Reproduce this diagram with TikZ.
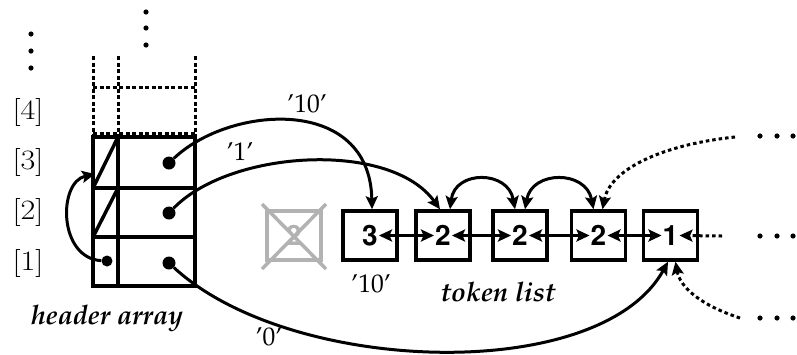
\documentclass[tikz,border=0pt]{standalone}
\usetikzlibrary{arrows.meta}
% Palatino and Helvetica from psnfss; Latin Modern, widened, for the indices
\newcommand\palbi{\fontencoding{OT1}\fontfamily{ppl}\fontseries{b}\fontshape{it}\selectfont}
\newcommand\palrm{\fontencoding{OT1}\fontfamily{ppl}\fontseries{m}\fontshape{n}\selectfont}
\newcommand\helvb{\fontencoding{OT1}\fontfamily{phv}\fontseries{b}\fontshape{n}\selectfont}
\newcommand\wideidx[1]{\scalebox{1.15}[1]{#1}}
\tikzset{
  tok/.style={draw, line width=3.5pt, minimum width=54pt, minimum height=49pt, inner sep=0pt},
  num/.style={font=\helvb\fontsize{28}{30}\selectfont, inner sep=1pt},
  idx/.style={font=\fontsize{28}{32}\selectfont, inner sep=0pt},
  quot/.style={font=\palrm\fontsize{25.5}{28}\selectfont, inner sep=0pt},
  title/.style={font=\palbi\fontsize{27}{30}\selectfont, inner sep=0pt},
  dotnode/.style={circle, fill, inner sep=0pt, minimum size=13pt},
  tip/.tip={Stealth[length=13pt, width=12pt, inset=2.5pt]},
  lnk/.style={line width=3pt, tip-tip},
  ptr/.style={line width=3pt, -tip},
  dotted line/.style={line width=3pt, dash pattern=on 3.5pt off 3pt},
  grid line/.style={line width=3.5pt},
  dash line/.style={line width=3pt, dash pattern=on 4pt off 2.5pt},
}
\begin{document}
\begin{tikzpicture}[x=1pt, y=-1pt]
\useasboundingbox (0,0) rectangle (797,354);

% ---- header array ----
\foreach \yy in {34,51,68} \fill (31,\yy) circle[radius=2.6pt];
\foreach \yy in {12,28,45} \fill (146,\yy) circle[radius=2.6pt];

\draw[dash line] (93,56) -- (93,137) (118,56) -- (118,137) (195,56) -- (195,137);
\draw[dash line] (93,87) -- (195,87) (93,133) -- (195,133);

\draw[grid line] (93,137) rectangle (195,286);
\draw[grid line] (118,137) -- (118,286) (93,188) -- (195,188) (93,237) -- (195,237);
\draw[grid line] (93,188) -- (118,137) (93,237) -- (118,188);

\node[idx] (i4) at (28,112) {\wideidx{[4]}};
\node[idx] (i3) at (28,162) {\wideidx{[3]}};
\node[idx] (i2) at (28,212) {\wideidx{[2]}};
\node[idx] (i1) at (28,263) {\wideidx{[1]}};

\node[dotnode, minimum size=11pt] (p1) at (107,261) {};
\node[dotnode] (h3) at (169,163) {};
\node[dotnode] (h2) at (169,213) {};
\node[dotnode] (h1) at (169,263) {};
\coordinate (free3) at (95,174);

\draw[ptr] (p1) .. controls (58,258) and (58,182) .. (free3);

\node[title] (ha) at (107,318) {header array};

% ---- token list ----
\node[tok, draw=gray!60, text=gray!60, font=\helvb\fontsize{28}{30}\selectfont] (bx) at (294,235.5) {2};
\draw[grid line, gray!60] (262,204) -- (326,269) (262,269) -- (326,204);

\node[tok] (b1) at (370,235.5) {};
\node[tok] (b2) at (443,235.5) {};
\node[tok] (b3) at (520,235.5) {};
\node[tok] (b4) at (598.5,235.5) {};
\node[tok] (b5) at (670.5,235.5) {};
\node[num] (n1) at (b1.center) {3};
\node[num] (n2) at (b2.center) {2};
\node[num] (n3) at (b3.center) {2};
\node[num] (n4) at (b4.center) {2};
\node[num] (n5) at (b5.center) {1};

\draw[lnk] (n1.east) -- (n2.west);
\draw[lnk] (n2.east) -- (n3.west);
\draw[lnk] (n3.east) -- (n4.west);
\draw[lnk] (n4.east) -- (n5.west);

\coordinate (mid) at (722,236);
\draw[dotted line, -tip] (mid) -- (n5.east);

% pointers from the header array
\draw[ptr] (h3) .. controls (230,105) and (370,95) .. ([xshift=2pt]b1.north);
\draw[ptr] (h2) .. controls (230,150) and (390,140) .. ([xshift=-3pt]b2.north);
\draw[ptr] (h1) .. controls (290,375) and (600,385) .. ([xshift=-2.5pt]b5.south);

% links between equal tokens
\draw[lnk] ([xshift=7pt]b2.north) .. controls (455,170) and (508,170) .. ([xshift=-5pt]b3.north);
\draw[lnk] ([xshift=5pt]b3.north) .. controls (532,170) and (586,170) .. ([xshift=-5pt]b4.north);

% continuation to the rest of the list
\coordinate (up) at (735,137);
\coordinate (down) at (740,318);
\draw[dotted line, -tip] (up) .. controls (660,145) and (610,170) .. ([xshift=4pt]b4.north);
\draw[dotted line, -tip] (down) .. controls (700,305) and (680,287) .. ([xshift=5pt]b5.south);

\foreach \yy in {136,236,318}
  \foreach \xx in {760,777,793} \fill (\xx,\yy) circle[radius=2.6pt];

% labels
\node[quot] (l10) at (307,104) {'10'};
\node[quot] (l1) at (240,152) {'1'};
\node[quot] (l0) at (269,337) {'0'};
\node[quot] (l10b) at (371,284) {'10'};
\node[title] (tl) at (498,292) {token list};
\end{tikzpicture}
\end{document}
